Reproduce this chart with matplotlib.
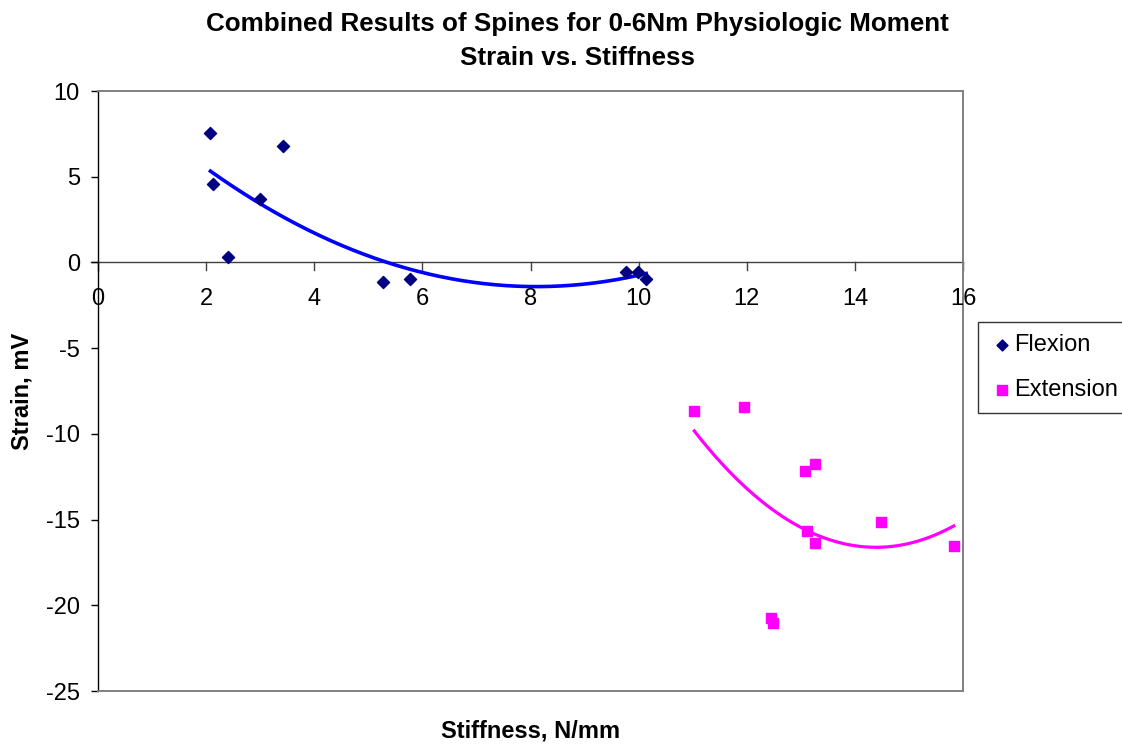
import numpy as np
import matplotlib
matplotlib.use("Agg")
import matplotlib.pyplot as plt

plt.rcParams['font.family'] = ['Liberation Sans', 'DejaVu Sans']
plt.rcParams['axes.unicode_minus'] = False

flex_x = [2.08, 2.12, 2.41, 2.99, 3.43, 5.27, 5.77, 9.77, 9.99, 10.14]
flex_y = [7.54, 4.56, 0.29, 3.68, 6.78, -1.17, -0.99, -0.53, -0.58, -0.94]
ext_x = [11.03, 11.95, 13.07, 13.26, 13.12, 13.27, 14.49, 12.44, 12.48, 15.83]
ext_y = [-8.69, -8.42, -12.18, -11.75, -15.68, -16.36, -15.16, -20.73, -21.06, -16.52]

title_lines = ["Combined Results of Spines for 0-6Nm Physiologic Moment", "Strain vs. Stiffness"]
xlabel = "Stiffness, N/mm"
ylabel = "Strain, mV"
xticks = list(range(0, 17, 2))
yticks = list(range(-25, 11, 5))

W, H = 1122, 744
fig = plt.figure(figsize=(W / 100, H / 100), dpi=100)
ax = fig.add_axes([98 / W, 1 - 691 / H, (963 - 98) / W, (691 - 91) / H])

ax.scatter(flex_x, flex_y, marker='D', s=38, color='#000080', label='Flexion', zorder=3)
ax.scatter(ext_x, ext_y, marker='s', s=58, color='#FF00FF', label='Extension', zorder=3)

# 2nd-order polynomial trendlines
for xs, ys, col, lw in [(flex_x, flex_y, '#0000FF', 2.6), (ext_x, ext_y, '#FF00FF', 2.3)]:
    c = np.polyfit(xs, ys, 2)
    xx = np.linspace(min(xs), max(xs), 200)
    ax.plot(xx, np.polyval(c, xx), color=col, lw=lw, zorder=2)

ax.set_xlim(0, 16)
ax.set_ylim(-25, 10)
ax.set_yticks(yticks)

for s in ['top', 'right', 'bottom']:
    ax.spines[s].set_color('#808080')
    ax.spines[s].set_linewidth(1.4)
ax.spines['left'].set_color('black')
ax.spines['left'].set_linewidth(1.0)
ax.axhline(0, color='#404040', lw=1.0, zorder=1, xmin=-0.008, clip_on=False)

ax.tick_params(axis='y', direction='out', length=5, width=1, labelsize=17, pad=8)
ax.tick_params(axis='x', bottom=False, labelbottom=False)
for xv in xticks:
    ax.plot([xv, xv], [0, -0.42], color='#404040', lw=1, clip_on=False, zorder=1)
    ax.annotate(str(xv), xy=(xv, 0), xytext=(0, -18.5), textcoords='offset points',
                ha='center', va='top', fontsize=17)

fig.text(577 / W, 1 - 31 / H, title_lines[0], ha='center', va='baseline', fontsize=18.7, fontweight='bold')
fig.text(577 / W, 1 - 65 / H, title_lines[1], ha='center', va='baseline', fontsize=18.7, fontweight='bold')
fig.text(531 / W, 1 - 731 / H, xlabel, ha='center', va='center', fontsize=17, fontweight='bold')
fig.text(22 / W, 1 - 391 / H, ylabel, ha='center', va='center', rotation=90, fontsize=17, fontweight='bold')

leg = ax.legend(loc='upper left', bbox_to_anchor=(978 / W, 1 - 322 / H), bbox_transform=fig.transFigure,
                fontsize=17, frameon=True, fancybox=False, edgecolor='black', borderpad=0.5,
                handletextpad=0.05, handlelength=1.0, labelspacing=1.0, markerscale=0.9, borderaxespad=0)
leg.get_frame().set_linewidth(1.0)

fig.savefig('out.png', dpi=100)
